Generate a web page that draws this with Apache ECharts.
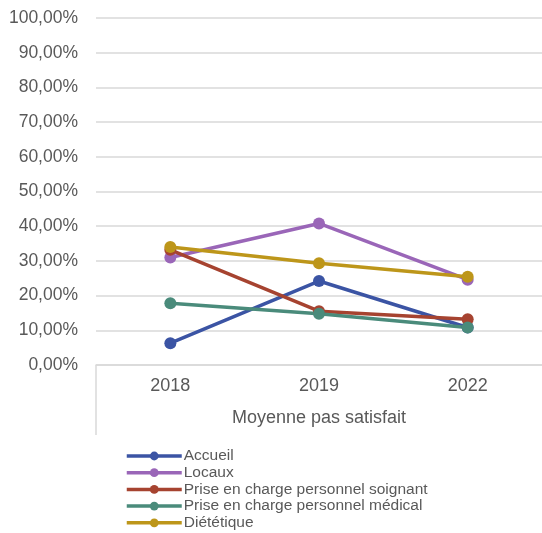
<!DOCTYPE html>
<html><head><meta charset="utf-8">
<script src="https://cdn.jsdelivr.net/npm/echarts@6/dist/echarts.min.js"></script>
<style>html,body{margin:0;padding:0;background:#fff}#c{width:542px;height:533px}</style>
</head><body><div id="c"></div>
<script>
const categories = ['2018', '2019', '2022'];
const axisName = 'Moyenne pas satisfait';
const seriesNames = ['Accueil', 'Locaux', 'Prise en charge personnel soignant', 'Prise en charge personnel médical', 'Diététique'];
const accueil = [6.3, 24.2, 10.8];
const locaux = [31.0, 40.8, 24.6];
const soignant = [33.2, 15.5, 13.2];
const medical = [17.8, 14.8, 10.8];
const dietetique = [34.0, 29.3, 25.4];
const colors = ['#3B54A4', '#9A66B8', '#A64330', '#4A8B7B', '#BD961A'];
const values = [accueil, locaux, soignant, medical, dietetique];

const chart = echarts.init(document.getElementById('c'));
const font = 'Liberation Sans, Arial, sans-serif';
chart.setOption({
  animation: false,
  textStyle: { fontFamily: font },
  grid: { left: 96, top: 18, width: 450, height: 347, containLabel: false },
  xAxis: {
    type: 'category', data: categories, boundaryGap: true,
    axisLine: { show: true, lineStyle: { color: '#d9d9d9', width: 1.5 } },
    axisTick: { show: false },
    axisLabel: { color: '#595959', fontSize: 18, margin: 12, fontFamily: font },
    name: axisName, nameLocation: 'middle', nameGap: 44,
    nameTextStyle: { color: '#595959', fontSize: 18, fontFamily: font },
    splitLine: { show: false }
  },
  yAxis: {
    type: 'value', min: 0, max: 100, interval: 10,
    axisLine: { show: false }, axisTick: { show: false },
    axisLabel: { color: '#595959', fontSize: 17.5, margin: 18, fontFamily: font,
      formatter: v => v.toFixed(2).replace('.', ',') + '%' },
    splitLine: { lineStyle: { color: '#d9d9d9', width: 1.5 } }
  },
  legend: {
    orient: 'vertical', left: 125, top: 448, height: 200, itemGap: 0.7,
    itemWidth: 55, itemHeight: 11, padding: 0,
    lineStyle: { width: 3.5 },
    textStyle: { color: '#595959', fontSize: 15.5, fontFamily: font, padding: [0, 0, 0, -3] },
    data: seriesNames
  },
  graphic: [{
    type: 'line', shape: { x1: 96, y1: 365, x2: 96, y2: 435 },
    style: { stroke: '#d9d9d9', lineWidth: 1.5 }
  }],
  series: seriesNames.map((n, i) => ({
    name: n, type: 'line', data: values[i],
    color: colors[i],
    symbol: 'circle', symbolSize: 12,
    lineStyle: { width: 3.5, color: colors[i] },
    itemStyle: { color: colors[i] },
    z: 2 + (i === 4 ? 1 : 0)
  }))
});
</script></body></html>
